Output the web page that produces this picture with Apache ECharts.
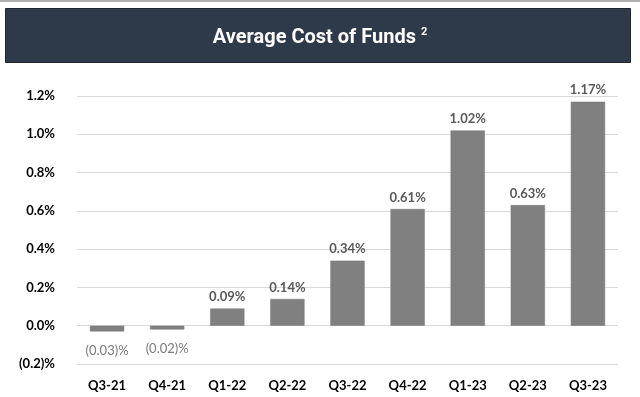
<!DOCTYPE html>
<html><head><meta charset="utf-8">
<script src="https://cdn.jsdelivr.net/npm/echarts@6/dist/echarts.min.js"></script>
<style>html,body{margin:0;padding:0;background:#fff}#c{width:640px;height:397px}</style>
</head><body><div id="c"></div>
<script>
const categories = ['Q3-21','Q4-21','Q1-22','Q2-22','Q3-22','Q4-22','Q1-23','Q2-23','Q3-23'];
const costOfFunds = [-0.03,-0.02,0.09,0.14,0.34,0.61,1.02,0.63,1.17];
const yTicks = {min:-0.2, max:1.2, interval:0.2};
const FONT = 'Lato, "Open Sans", sans-serif';

const chart = echarts.init(document.getElementById('c'), null, {renderer:'canvas'});
chart.setOption({
  animation:false,
  graphic:[
    {type:'rect', left:0, top:0, shape:{width:640,height:2}, style:{fill:'#b0b0b0'}},
    {type:'rect', left:5, top:8, shape:{width:625,height:54}, style:{fill:'#2e394a', stroke:'#1f2733', lineWidth:1}}
  ],
  title:{
    text:'{t|Average Cost of Funds} {s|2}',
    left:'center', top:22,
    textStyle:{rich:{
      t:{fontFamily:'Roboto, sans-serif', fontWeight:'bold', fontSize:20, color:'#ffffff'},
      s:{fontFamily:'Roboto, sans-serif', fontWeight:'bold', fontSize:11, color:'#ffffff', verticalAlign:'top', padding:[0,0,10,0]}
    }}
  },
  grid:{left:77, right:22, top:96, bottom:33, containLabel:false},
  xAxis:{
    type:'category', data:categories,
    axisLine:{show:false}, axisTick:{show:false},
    axisLabel:{fontFamily:FONT, fontWeight:'bold', fontSize:13, color:'#000', margin:15}
  },
  yAxis:{
    type:'value', min:yTicks.min, max:yTicks.max, interval:yTicks.interval,
    axisLine:{show:false}, axisTick:{show:false},
    splitLine:{lineStyle:{color:'#d9d9d9', width:1}},
    axisLabel:{fontFamily:FONT, fontWeight:'bold', fontSize:13, color:'#000', margin:22,
      formatter:v=>{const r=Math.round(v*10)/10; return r<0?'('+Math.abs(r).toFixed(1)+')%':r.toFixed(1)+'%';}}
  },
  series:[{
    type:'bar', barWidth:'57%',
    itemStyle:{color:'#808080', borderColor:'#767676', borderWidth:0.5},
    data:costOfFunds.map(v=>({
      value:v,
      label:{show:true, position:v<0?'bottom':'top', distance:v<0?13:5,
        fontFamily:FONT, fontWeight:v<0?'normal':'bold', fontSize:13,
        color:v<0?'#7a7a7a':'#595959',
        formatter:p=>p.value<0?'('+Math.abs(p.value).toFixed(2)+')%':p.value.toFixed(2)+'%'}
    }))
  }]
});
</script></body></html>
